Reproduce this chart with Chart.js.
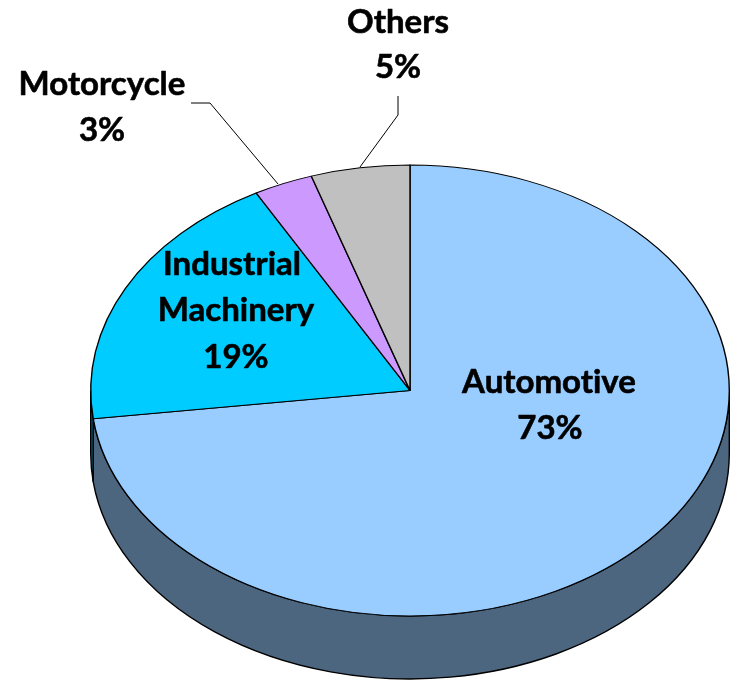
<!DOCTYPE html>
<html><head><meta charset="utf-8">
<style>html,body{margin:0;padding:0;background:#fff}canvas{display:block}</style>
<script src="https://cdn.jsdelivr.net/npm/chart.js@4"></script></head>
<body><canvas id="c" width="738" height="680"></canvas>
<script>
const categories = ['Automotive','Industrial Machinery','Motorcycle','Others'];
const shares = [73,19,3,5];
const sliceColors = ['#99CCFF','#00CCFF','#CC99FF','#C0C0C0'];
const sideColors = ['#4D6680','#006680','#664D80','#606060'];
const labelLines = [['Automotive','73%'],['Industrial','Machinery','19%'],['Motorcycle','3%'],['Others','5%']];
const labelSpots = [[[549,382],[550,428]],[[232,264],[236,310],[236,357]],[[102,84],[102,130]],[[398,22],[398,67]]];
const leaderPaths = [null,null,[[191,103],[210,103],[278,184]],[[398,96],[398,115],[360,167]]];
const SQUASH = 0.706, DEPTH = 63, CY = 390.5;

function applyTilt(ctx, chart){
  const arc = chart.getDatasetMeta(0).data[0];
  ctx.translate(0, CY);
  ctx.scale(1, SQUASH);
  ctx.translate(0, -arc.y);
}
const tiltPie = {
  id:'tiltPie',
  beforeDatasetsDraw(chart){
    const ctx = chart.ctx, meta = chart.getDatasetMeta(0);
    meta.data.forEach((a,i)=>{
      const s = Math.max(a.startAngle,0), e = Math.min(a.endAngle,Math.PI);
      if (e <= s) return;
      ctx.save();
      ctx.beginPath();
      applyTilt(ctx, chart);
      ctx.arc(a.x,a.y,a.outerRadius,s,e);
      ctx.translate(0, DEPTH/SQUASH);
      ctx.arc(a.x,a.y,a.outerRadius,e,s,true);
      ctx.closePath();
      ctx.setTransform(1,0,0,1,0,0);
      ctx.fillStyle = sideColors[i];
      ctx.fill();
      ctx.strokeStyle = '#000';
      ctx.lineWidth = 1.4;
      ctx.stroke();
      ctx.restore();
    });
    ctx.save();
    applyTilt(ctx, chart);
  },
  afterDatasetsDraw(chart){
    const ctx = chart.ctx;
    ctx.restore();
    ctx.save();
    ctx.strokeStyle = '#000';
    ctx.lineWidth = 1;
    leaderPaths.forEach(p=>{
      if(!p) return;
      ctx.beginPath();
      p.forEach((q,i)=> i ? ctx.lineTo(q[0],q[1]) : ctx.moveTo(q[0],q[1]));
      ctx.stroke();
    });
    ctx.fillStyle = '#000';
    ctx.strokeStyle = '#000';
    ctx.lineWidth = 0.6;
    ctx.lineJoin = 'round';
    ctx.font = 'bold 33px Lato, "Open Sans", sans-serif';
    ctx.letterSpacing = '0.01px';
    ctx.textAlign = 'center';
    ctx.textBaseline = 'middle';
    labelLines.forEach((lines,i)=> lines.forEach((t,j)=>{
      ctx.fillText(t, labelSpots[i][j][0], labelSpots[i][j][1]);
      ctx.strokeText(t, labelSpots[i][j][0], labelSpots[i][j][1]);
    }));
    ctx.restore();
  }
};
new Chart(document.getElementById('c'),{
  type:'pie',
  data:{labels:categories,datasets:[{data:shares,backgroundColor:sliceColors,borderColor:'#000',borderWidth:1.4}]},
  options:{
    responsive:false,animation:false,
    layout:{padding:{left:90,right:8,top:20,bottom:20}},
    plugins:{legend:{display:false},tooltip:{enabled:false},title:{display:false}}
  },
  plugins:[tiltPie]
});
</script></body></html>
